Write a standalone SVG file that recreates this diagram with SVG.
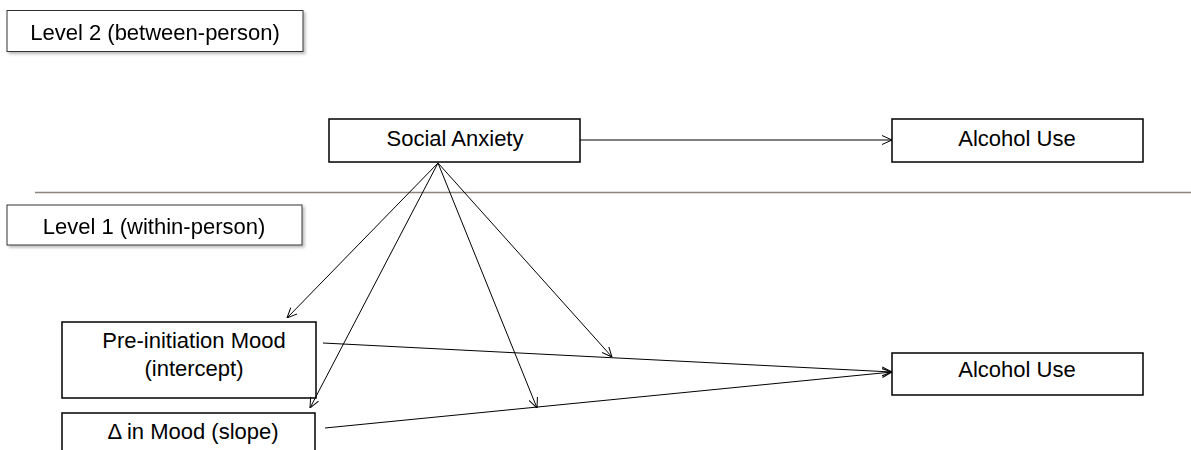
<svg xmlns="http://www.w3.org/2000/svg" width="1191" height="450" viewBox="0 0 1191 450">
<defs>
  <style>
    .box { fill: #fff; stroke: #000; stroke-width: 1.5; }
    .lvl { fill: #fff; stroke: #333; stroke-width: 1; }
    .t { font-family: "Liberation Sans", Arial, sans-serif; font-size: 22px; fill: #000; text-anchor: middle; }
    .c { fill: none; stroke: #000; stroke-width: 1; }
    .sep { stroke: #8a847c; stroke-width: 1.5; }
  </style>
  <marker id="arr" viewBox="0 0 10 10" refX="10" refY="5" markerWidth="10" markerHeight="10" markerUnits="userSpaceOnUse" orient="auto">
    <path d="M0,0.5 L10,5 L0,9.5" fill="none" stroke="#000" stroke-width="1"/>
  </marker>
  <filter id="sh" x="-10%" y="-20%" width="130%" height="160%">
    <feDropShadow dx="2" dy="2" stdDeviation="1.5" flood-color="#888" flood-opacity="0.6"/>
  </filter>
</defs>
<rect width="1191" height="450" fill="#fff"/>
<line class="sep" x1="35" y1="192.5" x2="1191" y2="192.5"/>
<g id="level2" filter="url(#sh)">
  <rect class="lvl" x="7" y="10.5" width="296" height="41"/>
  <text class="t" x="155" y="40">Level 2 (between-person)</text>
</g>
<g id="level1" filter="url(#sh)">
  <rect class="lvl" x="7" y="205" width="295" height="40"/>
  <text class="t" x="154" y="234">Level 1 (within-person)</text>
</g>
<g id="social-anxiety">
  <rect class="box" x="329" y="119" width="251" height="43"/>
  <text class="t" x="455" y="146">Social Anxiety</text>
</g>
<g id="alcohol-use-l2">
  <rect class="box" x="892" y="119" width="251" height="43"/>
  <text class="t" x="1017" y="146">Alcohol Use</text>
</g>
<g id="pre-initiation-mood">
  <rect class="box" x="62" y="322" width="254" height="76"/>
  <text class="t" x="194" y="348">Pre-initiation Mood</text>
  <text class="t" x="194" y="376">(intercept)</text>
</g>
<g id="delta-mood">
  <rect class="box" x="62" y="413" width="253" height="45"/>
  <text class="t" x="193" y="439">Δ in Mood (slope)</text>
</g>
<g id="alcohol-use-l1">
  <rect class="box" x="892" y="353" width="251" height="42"/>
  <text class="t" x="1017" y="377">Alcohol Use</text>
</g>
<g id="connectors">
  <line class="c" x1="580" y1="140" x2="892" y2="140" marker-end="url(#arr)"/>
  <line class="c" x1="438" y1="163" x2="287" y2="318" marker-end="url(#arr)"/>
  <line class="c" x1="438" y1="163" x2="310" y2="408" marker-end="url(#arr)"/>
  <line class="c" x1="438" y1="163" x2="537" y2="408" marker-end="url(#arr)"/>
  <line class="c" x1="438" y1="163" x2="612" y2="357" marker-end="url(#arr)"/>
  <line class="c" x1="323" y1="343" x2="892" y2="372" marker-end="url(#arr)"/>
  <line class="c" x1="325" y1="428" x2="892" y2="372" marker-end="url(#arr)"/>
</g>
</svg>
